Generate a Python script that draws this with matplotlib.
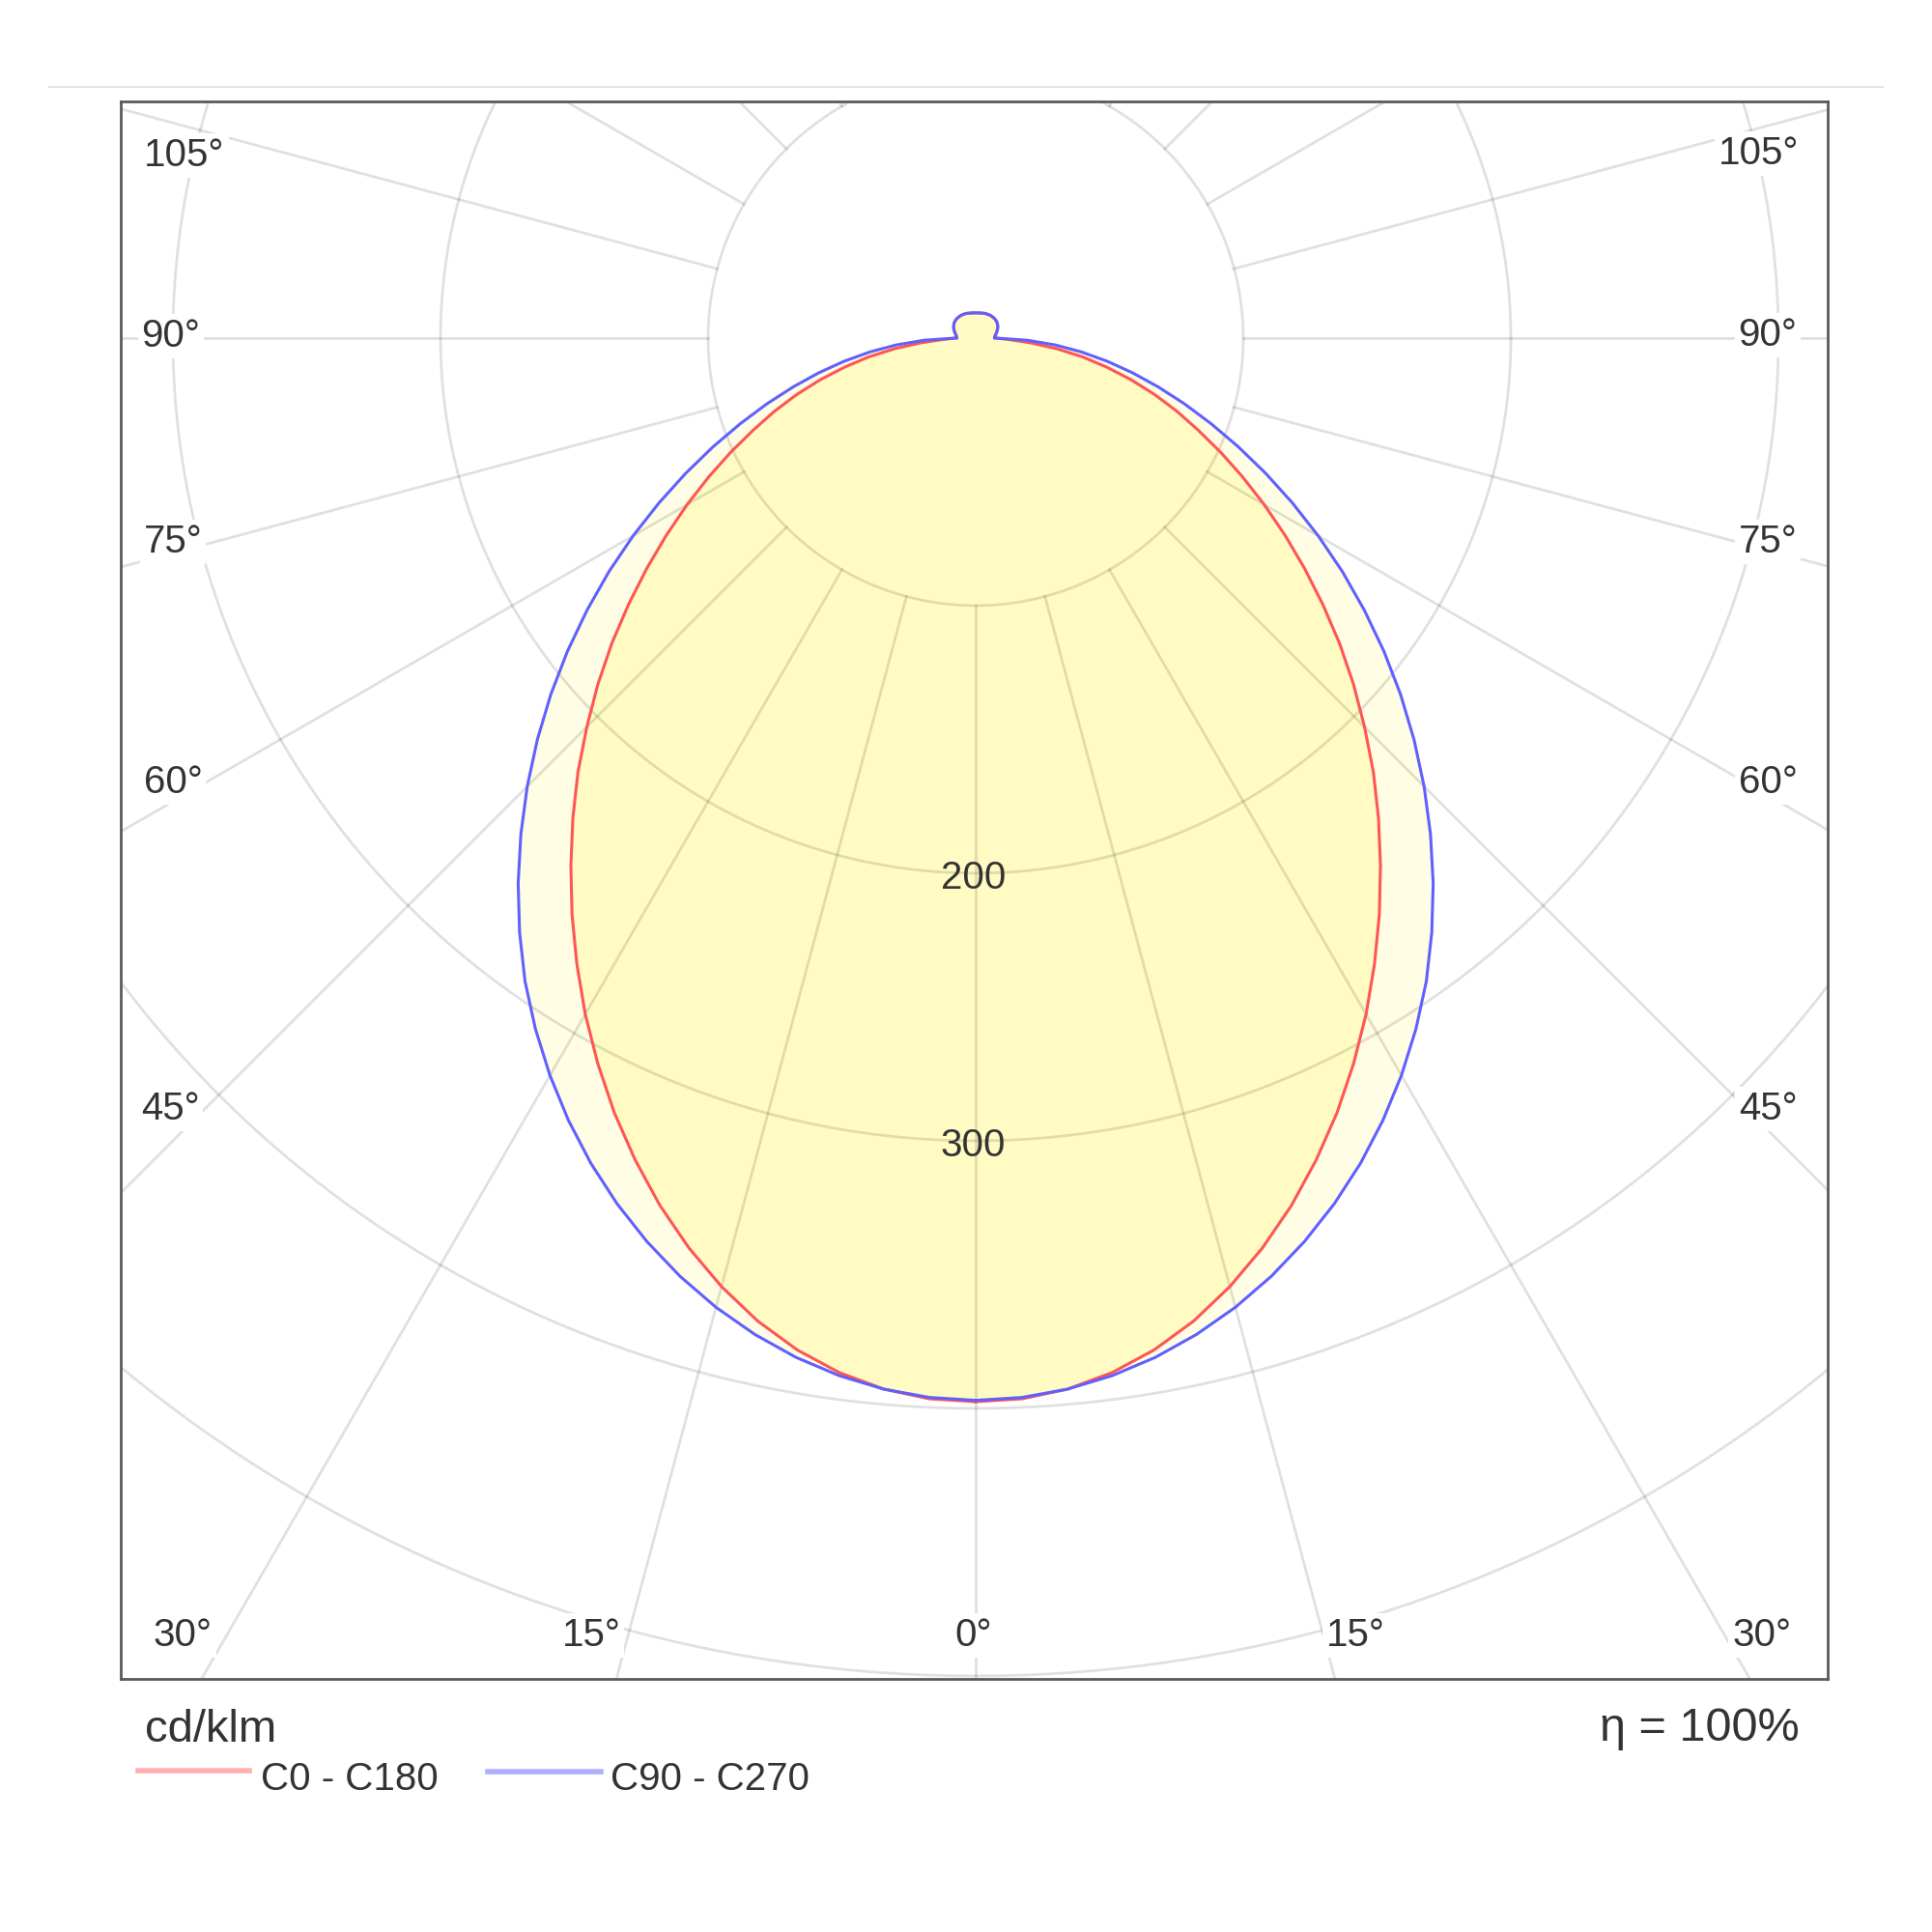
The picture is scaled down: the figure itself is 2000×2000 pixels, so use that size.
import numpy as np
import matplotlib
matplotlib.use("Agg")
import matplotlib.pyplot as plt
from matplotlib.lines import Line2D

plt.rcParams['font.family'] = ['Liberation Sans', 'DejaVu Sans']

# gamma angles (deg, 0 = straight down), 2.5 deg steps below, 5 deg above
gamma = [0, 2.5, 5, 7.5, 10, 12.5, 15, 17.5, 20, 22.5, 25, 27.5, 30, 32.5, 35, 37.5,
         40, 42.5, 45, 47.5, 50, 52.5, 55, 57.5, 60, 62.5, 65, 67.5, 70, 72.5, 75, 77.5,
         80, 82.5, 85, 87.5, 90,
         95, 100, 105, 110, 115, 120, 125, 130, 135, 140, 145, 150, 155, 160, 165, 170, 175, 180]

# intensities in cd/klm
c0_c180 = [397.5, 396.8, 394.3, 390.0, 384.0, 376.3, 367.0, 356.5, 345.0, 332.5, 319.5, 305.8,
           291.8, 277.4, 263.0, 248.5, 234.2, 220.0, 205.5, 191.5, 177.5, 163.5, 150.0, 137.0,
           124.5, 112.5, 101.0, 90.0, 80.0, 70.0, 60.0, 50.0, 40.5, 30.5, 20.5, 12.0, 7.0,
           7.2, 7.6, 8.1, 8.6, 9.1, 9.5, 9.8, 10.0, 10.1, 10.1, 10.1, 10.0, 9.9, 9.8, 9.6, 9.5, 9.4, 9.4]
c90_c270 = [397.0, 396.3, 394.3, 391.1, 386.8, 381.4, 375.0, 367.6, 359.3, 350.2, 340.3, 329.6,
            318.2, 306.2, 293.6, 280.0, 266.0, 251.6, 237.0, 222.2, 207.3, 192.3, 177.3, 162.5,
            147.8, 133.4, 119.5, 106.2, 93.6, 81.8, 70.6, 60.0, 49.8, 39.8, 29.8, 19.3, 7.0,
            7.2, 7.6, 8.1, 8.6, 9.1, 9.5, 9.8, 10.0, 10.1, 10.1, 10.1, 10.0, 9.9, 9.8, 9.6, 9.5, 9.4, 9.4]

rings = [100, 200, 300, 400, 500, 600]
ring_labels = [200, 300]
spoke_angles = list(range(-165, 181, 15))

# angle labels: (text, x px, y px) in the 2000x2000 picture
angle_labels = [
    ("105°", 191, 161), ("90°", 177, 348), ("75°", 179, 561), ("60°", 179, 810),
    ("45°", 176, 1148), ("30°", 189, 1693),
    ("15°", 612, 1693), ("0°", 1008, 1693), ("15°", 1403, 1693),
    ("30°", 1824, 1693), ("45°", 1830, 1148), ("60°", 1830, 810), ("75°", 1830, 561),
    ("90°", 1830, 347), ("105°", 1821, 159),
]


def outline(values):
    g = np.radians(np.array(gamma, dtype=float))
    r = np.array(values, dtype=float)
    # right half going down->up, left half going back up->down
    x = np.concatenate([r * np.sin(g), (-r * np.sin(g))[::-1]])
    y = np.concatenate([-r * np.cos(g), (-r * np.cos(g))[::-1]])
    return x, y


W = 2000
fig = plt.figure(figsize=(20, 20), dpi=100)
fig.patch.set_facecolor('white')

# frame 125..1892 x, 105..1738 y in pixels
ax = fig.add_axes([125 / W, 1 - 1738 / W, (1892 - 125) / W, (1738 - 105) / W])
ax.set_xlim(-319.5, 318.4)
ax.set_ylim(-501.1, 88.4)
ax.set_xticks([])
ax.set_yticks([])
for sp in ax.spines.values():
    sp.set_color('#5a5a5a')
    sp.set_linewidth(2.0)

# fills
xb, yb = outline(c90_c270)
xr, yr = outline(c0_c180)
ax.fill(xb, yb, color='#FFFDE3', zorder=1, lw=0)
ax.fill(xr, yr, color='#FFFBC3', zorder=1.1, lw=0)

# grid
t = np.linspace(0, 2 * np.pi, 721)
for r in rings:
    ax.plot(r * np.cos(t), r * np.sin(t), color='black', alpha=0.12, lw=2.0, zorder=2)
for a in spoke_angles:
    ar = np.radians(a)
    ax.plot([100 * np.sin(ar), 800 * np.sin(ar)], [-100 * np.cos(ar), -800 * np.cos(ar)],
            color='black', alpha=0.12, lw=2.0, zorder=2)

# curves
ax.plot(xr, yr, color='#FF5555', lw=2.2, zorder=3, solid_joinstyle='round')
ax.plot(xb, yb, color='#6060FF', lw=2.2, zorder=3.1, solid_joinstyle='round')

for v in ring_labels:
    ax.text(-1, -v - 2, str(v), ha='center', va='center', fontsize=29, color='#333333', zorder=4)

for txt, px, py in angle_labels:
    fig.text(px / W, 1 - py / W, txt, ha='center', va='center', fontsize=29, color='#333333',
             bbox=dict(facecolor='white', edgecolor='none', pad=3), zorder=5)

# thin separator on top
fig.add_artist(Line2D([51 / W, 1949 / W], [1 - 90 / W, 1 - 90 / W], color='#E4E4E4', lw=1.5))

# footer texts and legend
fig.text(150 / W, 1 - 1803 / W, "cd/klm", ha='left', va='baseline', fontsize=34, color='#333333')
fig.text(1863 / W, 1 - 1802 / W, "η = 100%", ha='right', va='baseline', fontsize=35, color='#333333')
fig.add_artist(Line2D([143 / W, 258 / W], [1 - 1833 / W] * 2, color='#FFAFAF', lw=4))
fig.text(270 / W, 1 - 1853 / W, "C0 - C180", ha='left', va='baseline', fontsize=29, color='#333333')
fig.add_artist(Line2D([505 / W, 622 / W], [1 - 1834 / W] * 2, color='#AFAFFF', lw=4))
fig.text(632 / W, 1 - 1853 / W, "C90 - C270", ha='left', va='baseline', fontsize=29, color='#333333')

fig.savefig("out.png", dpi=100, facecolor='white')
